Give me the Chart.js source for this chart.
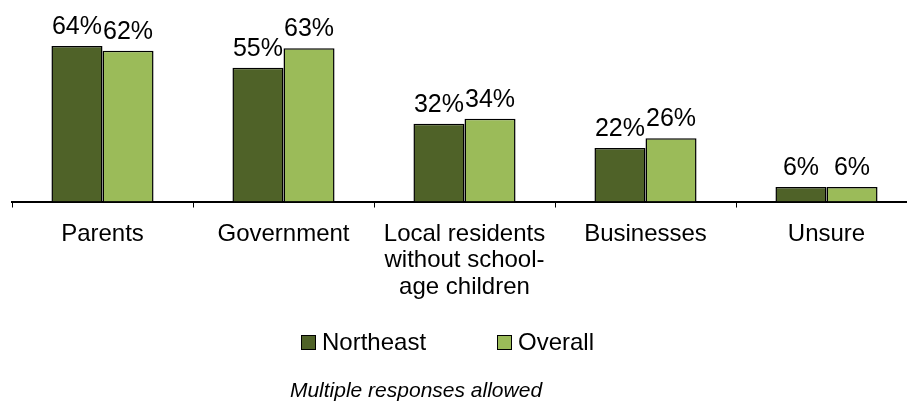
<!DOCTYPE html>
<html>
<head>
<meta charset="utf-8">
<script src="https://cdn.jsdelivr.net/npm/chart.js@4.4.0/dist/chart.umd.min.js"></script>
<style>
  html, body { margin: 0; padding: 0; background: #fff; }
  #wrap { position: relative; width: 907px; height: 403px; overflow: hidden; font-family: "Liberation Sans", Arial, sans-serif; }
  #cbox { position: absolute; left: 0; top: 0; width: 920px; height: 403px; }
  #c { display: block; }
  .leg { position: absolute; top: 328px; height: 28px; display: flex; align-items: center; font-size: 24px; color: #000; white-space: nowrap; }
  .sw { width: 13px; height: 13px; border: 1px solid #000; margin-right: 6px; }
  #note { position: absolute; left: 0; width: 832px; text-align: center; top: 378px; font-size: 21px; font-style: italic; color: #000; }
</style>
</head>
<body>
<div id="wrap">
  <div id="cbox"><canvas id="c" width="920" height="403"></canvas></div>
  <div id="legend"></div>
  <div id="note">Multiple responses allowed</div>
</div>
<script>
const categories = [["Parents"], ["Government"], ["Local residents", "without school-", "age children"], ["Businesses"], ["Unsure"]];
const seriesNames = ["Northeast", "Overall"];
const northeast = [64, 55, 32, 22, 6];
const overall = [62, 63, 34, 26, 6];
const seriesColors = ["#4F6228", "#9BBB59"];
const noteText = "Multiple responses allowed";

const legendLefts = [301, 497];
const legendEl = document.getElementById('legend');
seriesNames.forEach((n, i) => {
  const d = document.createElement('div');
  d.className = 'leg';
  d.style.left = legendLefts[i] + 'px';
  d.innerHTML = '<div class="sw" style="background:' + seriesColors[i] + '"></div><span>' + n + '</span>';
  legendEl.appendChild(d);
});
document.getElementById('note').textContent = noteText;

const valueLabels = {
  id: 'valueLabels',
  afterDatasetsDraw(chart) {
    const ctx = chart.ctx;
    ctx.save();
    ctx.font = '25px "Liberation Sans", Arial, sans-serif';
    ctx.fillStyle = '#000';
    ctx.textAlign = 'center';
    ctx.textBaseline = 'alphabetic';
    chart.data.datasets.forEach((ds, di) => {
      chart.getDatasetMeta(di).data.forEach((bar, i) => {
        ctx.fillText(ds.data[i] + '%', bar.x, bar.y - 12);
      });
    });
    ctx.restore();
  }
};

new Chart(document.getElementById('c'), {
  type: 'bar',
  data: {
    labels: categories,
    datasets: [
      { label: seriesNames[0], data: northeast, backgroundColor: seriesColors[0], borderColor: '#000', borderWidth: 1.5 },
      { label: seriesNames[1], data: overall, backgroundColor: seriesColors[1], borderColor: '#000', borderWidth: 1.5 }
    ]
  },
  options: {
    responsive: false,
    animation: false,
    devicePixelRatio: 1,
    layout: { padding: { left: 12, right: 3, top: 7, bottom: 89 } },
    datasets: { bar: { barPercentage: 1, categoryPercentage: 0.564 } },
    plugins: { legend: { display: false }, tooltip: { enabled: false } },
    scales: {
      x: {
        grid: { display: true, drawOnChartArea: false, drawTicks: true, tickLength: 6, color: '#000', offset: true },
        border: { display: true, color: '#000', width: 2 },
        ticks: { color: '#000', padding: 14, maxRotation: 0, autoSkip: false, font: { family: '"Liberation Sans", Arial, sans-serif', size: 24, lineHeight: 1.09 } }
      },
      y: { display: false, min: 0, max: 80 }
    }
  },
  plugins: [valueLabels]
});
</script>
</body>
</html>
